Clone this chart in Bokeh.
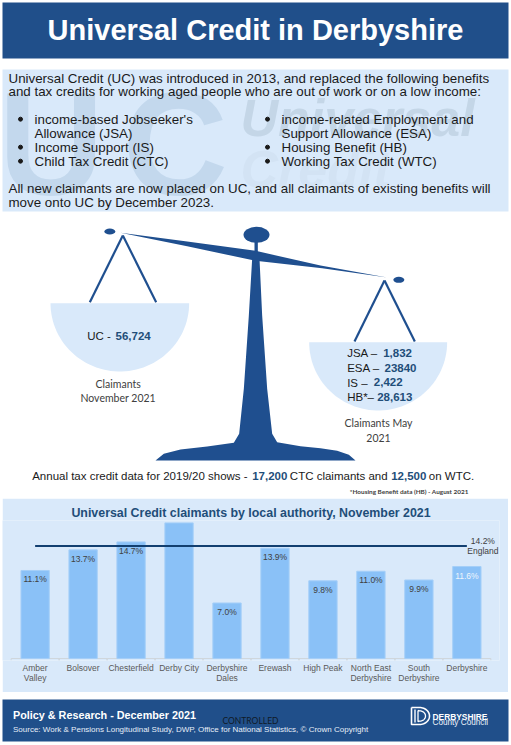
import numpy as np
from bokeh.core.properties import value
from bokeh.embed import file_html
from bokeh.layouts import column
from bokeh.models import ColumnDataSource, FactorRange, LabelSet, Range1d, Title
from bokeh.plotting import figure
from bokeh.resources import INLINE
from bokeh.transform import dodge

# ---- chart data ----
authorities = ["Amber\nValley", "Bolsover", "Chesterfield", "Derby City", "Derbyshire\nDales",
               "Erewash", "High Peak", "North East\nDerbyshire", "South\nDerbyshire", "Derbyshire"]
claimant_rate = [11.1, 13.7, 14.7, 17.1, 7.0, 13.9, 9.8, 11.0, 9.9, 11.6]
rate_labels = ["11.1%", "13.7%", "14.7%", "", "7.0%", "13.9%", "9.8%", "11.0%", "9.9%", "11.6%"]
label_colours = ["#404040"] * 9 + ["#eef5fc"]
england_rate = 14.2
england_labels = ["14.2%", "England"]

# ---- texts ----
main_title = "Universal Credit in Derbyshire"
chart_title = "Universal Credit claimants by local authority, November 2021"
intro_lines = ["Universal Credit (UC) was introduced in 2013, and replaced the following benefits",
               "and tax credits for working aged people who are out of work or on a low income:"]
left_bullets = ["income-based Jobseeker's", "Allowance (JSA)", "Income Support (IS)", "Child Tax Credit (CTC)"]
right_bullets = ["income-related Employment and", "Support Allowance (ESA)", "Housing Benefit (HB)", "Working Tax Credit (WTC)"]
outro_lines = ["All new claimants are now placed on UC, and all claimants of existing benefits will",
               "move onto UC by December 2023."]

NAVY = "#204f8a"
SCALE_BLUE = "#1f4f8f"
PANEL = "#d9e9fa"
BOLD_NAVY = "#1f4e79"
DARK = "#1a1a1a"
ARIAL = "Liberation Sans"
CAL = "Lato"
BODY = 13.35


def bare(height, yr):
    f = figure(width=511, height=height, x_range=Range1d(0, 511), y_range=Range1d(*yr),
               x_axis_location=None, y_axis_location=None, output_backend="svg",
               toolbar_location=None, min_border=0, outline_line_color=None,
               background_fill_color="white", border_fill_color="white", frame_align=False)
    f.grid.visible = False
    return f


def txt(f, x, y, s, size, color=DARK, bold=False, font=ARIAL, align="left", italic=False):
    style = "bold italic" if bold and italic else "bold" if bold else "italic" if italic else "normal"
    f.text([x], [y], text=[s], text_font=value(font), text_font_size=value(f"{size}px"), text_color=color,
           text_font_style=style, text_align=align, text_baseline="middle")


# ======== top figure, in page pixels ========
top = bare(498, (498, 0))
top.quad(left=[2], right=[508], top=[2], bottom=[58], fill_color=NAVY, line_color=None)
txt(top, 255, 29, main_title, 29, "white", True, align="center")

top.quad(left=[2], right=[508], top=[69], bottom=[211], fill_color=PANEL, line_color=None)
txt(top, -2, 144, "U", 146, "#c3d8ed", True)
txt(top, 122, 144, "C", 146, "#c3d8ed", True)
txt(top, 240, 117, "Universal", 52, "#c4d6e7", True, italic=True)
txt(top, 240, 168, "Credit", 52, "#d3e3f4", True, italic=True)

for z, line in zip((233, 273), intro_lines):
    txt(top, 8, z / 3, line, BODY)
for z, l, r in zip((356, 398, 440, 482), left_bullets, right_bullets):
    txt(top, 34, z / 3, l, BODY)
    txt(top, 281, z / 3, r, BODY)
for z in (356, 440, 482):
    top.scatter([20, 267], [z / 3, z / 3], size=4, color=DARK)
for z, line in zip((563, 605), outro_lines):
    txt(top, 8, z / 3, line, BODY)


# balance: drawn in the 3x crop coordinates of that region
def X(v):
    return np.asarray(v, float) / 3


def Y(v):
    return 215 + np.asarray(v, float) / 3


def pan(cx, cy, rx, ry):
    t = np.linspace(0, np.pi, 60)
    top.patch(X(cx + rx * np.cos(t)), Y(cy + ry * np.sin(t)), fill_color=PANEL, line_color=None)


pan(358, 263, 208, 205)
pan(1133, 380, 207, 205)

for ax, ay, bx, by in [(367, 60, 268, 260), (367, 60, 467, 260), (1152, 195, 1062, 378), (1152, 195, 1243, 378)]:
    top.line(X([ax, bx]), Y([ay, by]), line_color=SCALE_BLUE, line_width=2.2)

top.patch(X([360, 560, 765, 960, 1160, 965, 765, 560]), Y([52, 78, 106, 150, 186, 158, 136, 92]),
          fill_color=SCALE_BLUE, line_color=None)
top.quad(left=X([762]), right=X([772]), top=Y([70]), bottom=Y([115]), fill_color=SCALE_BLUE, line_color=None)
top.ellipse(X([768]), Y([58]), width=26, height=16, fill_color=SCALE_BLUE, line_color=None)
top.ellipse(X([328]), Y([48]), width=11, height=6, fill_color=SCALE_BLUE, line_color=None)
top.ellipse(X([1195]), Y([193]), width=11, height=6, fill_color=SCALE_BLUE, line_color=None)
top.patch(X([755, 745, 730, 716, 700, 620, 540, 490, 465, 1065, 1045, 1010, 960, 900, 830, 815, 800, 785, 777]),
          Y([130, 300, 520, 655, 682, 693, 702, 715, 735, 735, 718, 706, 698, 692, 680, 655, 520, 300, 130]),
          fill_color=SCALE_BLUE, line_color=None)

for zx, zy, s in [(260, 360, "UC -"), (1040, 413, "JSA –"), (1040, 458, "ESA –"), (1040, 501, "IS –"), (1040, 543, "HB*–")]:
    txt(top, zx / 3, 215 + zy / 3, s, 11.5)
for zx, zy, s in [(345, 360, "56,724"), (1148, 413, "1,832"), (1152, 456, "23840"), (1120, 498, "2,422"), (1130, 543, "28,613")]:
    txt(top, zx / 3, 215 + zy / 3, s, 11.5, BOLD_NAVY, True)
for zx, zy, s in [(353, 505, "Claimants"), (353, 547, "November 2021"), (1134, 622, "Claimants May"), (1134, 667, "2021")]:
    txt(top, zx / 3, 215 + zy / 3, s, 10.5, "#404040", font=CAL, align="center")

for zx, s, b in [(95, "Annual tax credit data for 2019/20 shows -", False), (755, "17,200", True),
                 (868, "CTC claimants and", False), (1172, "12,500", True), (1285, "on WTC.", False)]:
    txt(top, zx / 3, 215 + 780 / 3, s, 11.5, BOLD_NAVY if b else DARK, b)
txt(top, 1048 / 3, 215 + 827 / 3, "*Housing Benefit data (HB) - August 2021", 6.4, "#404040", True, CAL)

# ======== bar chart ========
src = ColumnDataSource(dict(cat=authorities, v=claimant_rate, lab=rate_labels, col=label_colours))
chart = figure(width=506, height=194, margin=(0, 3, 0, 2), frame_align=False,
               x_range=FactorRange(factors=authorities, range_padding=0.18, range_padding_units="absolute"),
               y_range=Range1d(-0.25, 17.4), output_backend="svg", toolbar_location=None,
               y_axis_location=None, min_border_left=0, min_border_right=9, min_border_top=22,
               min_border_bottom=32, background_fill_color=PANEL, border_fill_color=PANEL,
               outline_line_color=None)
chart.grid.visible = False
chart.add_layout(Title(text=chart_title, align="center", text_font=ARIAL, text_font_size="12.4px",
                       text_font_style="bold", text_color=BOLD_NAVY, standoff=2), "above")
xa = chart.xaxis[0]
xa.axis_line_color = None
xa.major_tick_line_color = None
xa.minor_tick_line_color = None
xa.major_tick_out = 0
xa.major_tick_in = 0
xa.major_label_text_font = ARIAL
xa.major_label_text_font_size = "8.5px"
xa.major_label_text_color = "#595959"
xa.major_label_text_line_height = 1.0
xa.major_label_standoff = 2
xa.major_label_orientation = "horizontal"

ticks = ColumnDataSource(dict(cat=authorities, y0=[0] * 10, y1=[-0.25] * 10))
left_edge = dodge("cat", -0.5, range=chart.x_range)
right_edge = dodge("cat", 0.5, range=chart.x_range)
chart.segment(x0=left_edge, x1=right_edge, y0="y0", y1="y0", source=ticks, line_color="#cfd6dc", line_width=1)
chart.segment(x0=left_edge, x1=left_edge, y0="y0", y1="y1", source=ticks, line_color="#cfd6dc", line_width=1)
chart.segment(x0=right_edge, x1=right_edge, y0="y0", y1="y1", source=ticks, line_color="#cfd6dc", line_width=1)
chart.vbar(x="cat", top="v", bottom=0, width=0.59, source=src, fill_color="#8ac1f7", line_color="#a5cff8", line_width=1)
chart.text(x="cat", y="v", text="lab", source=src, text_font=value(ARIAL), text_font_size=value("8.5px"),
           text_color="col", text_align="center", text_baseline="top", y_offset=4)
chart.line(x=[authorities[0], authorities[-1]], y=[england_rate, england_rate], line_color="#123f70", line_width=2)
eng = ColumnDataSource(dict(x=[authorities[-1]] * 2, y=[england_rate] * 2, t=england_labels, off=[5, -5]))
chart.add_layout(LabelSet(x="x", y="y", text="t", source=eng, x_offset=16, y_offset="off", text_align="center",
                          text_baseline="middle", text_font=value(ARIAL), text_font_size=value("8.5px"),
                          text_color="#404040"))

# ======== footer ========
foot = bare(53, (745, 692))
foot.quad(left=[2], right=[508], top=[699], bottom=[741], fill_color=NAVY, line_color=None)
txt(foot, 12.5, 714, "Policy & Research - December 2021", 10.8, "white", True)
txt(foot, 12.5, 729, "Source: Work & Pensions Longitudinal Study, DWP, Office for National Statistics, © Crown Copyright",
    8, "#e6eef8")
txt(foot, 250, 720, "CONTROLLED", 8.5, "#101a26", font=CAL, align="center")
t = np.linspace(-np.pi / 2, np.pi / 2, 30)
foot.line(np.r_[411, 419 + 10 * np.cos(t), 411, 411], np.r_[707, 715.5 + 8.5 * np.sin(t), 724, 707],
          line_color="white", line_width=1.6)
foot.line([414.5, 414.5], [709, 722], line_color="white", line_width=1.4)
foot.line(np.r_[417.5, 419 + 6 * np.cos(t), 417.5, 417.5], np.r_[710, 715.5 + 5.2 * np.sin(t), 721, 710],
          line_color="white", line_width=1.3)
txt(foot, 432, 716, "DERBYSHIRE", 8.4, "white", True)
txt(foot, 432, 722.3, "County Council", 8.2, "#eef3fa")

page = column(top, chart, foot, spacing=0)
open("out.html", "w").write(file_html(page, INLINE))
